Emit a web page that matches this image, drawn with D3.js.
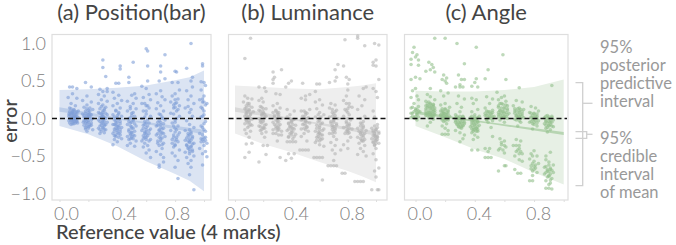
<!DOCTYPE html>
<html>
<head>
<meta charset="utf-8">
<script src="https://d3js.org/d3.v7.min.js"></script>
<style>
  html, body { margin: 0; padding: 0; background: #fff; }
  text { font-family: Lato, "Noto Sans", sans-serif; }
</style>
</head>
<body>
<script>
// Data
const titles = ["(a) Position(bar)", "(b) Luminance", "(c) Angle"];
const yTicks = [-1, -0.5, 0, 0.5, 1];
const xTicks = [0, 0.2, 0.4, 0.6, 0.8, 1];
const xTickLabels = ["0.0", "", "0.4", "", "0.8", ""];

const bandX = [0, 0.2, 0.4, 0.6, 0.8, 0.9, 1];
const posUpper = [0.38, 0.39, 0.41, 0.44, 0.51, 0.55, 0.64];
const posLower = [-0.1, -0.21, -0.37, -0.57, -0.74, -0.83, -0.97];
const lumUpper = [0.44, 0.42, 0.4, 0.39, 0.42, 0.44, 0.47];
const lumLower = [-0.2, -0.34, -0.45, -0.58, -0.7, -0.77, -0.85];
const angUpper = [0.37, 0.36, 0.36, 0.38, 0.42, 0.47, 0.52];
const angLower = [-0.1, -0.25, -0.41, -0.54, -0.72, -0.8, -0.88];

const lineX = [0, 0.5, 1];
const posMean = [0.12, -0.03, -0.18];
const posMeanHi = [0.15, -0.02, -0.15];
const posMeanLo = [0.09, -0.04, -0.21];
const lumMean = [0.12, -0.04, -0.2];
const lumMeanHi = [0.15, -0.03, -0.17];
const lumMeanLo = [0.09, -0.05, -0.23];
const angMean = [0.08, -0.06, -0.2];
const angMeanHi = [0.1, -0.05, -0.18];
const angMeanLo = [0.06, -0.07, -0.22];

const positionPoints = [
[.07,.42],[.09,.42],[.12,.4],[.09,.33],[.06,.28],[.12,.27],[.08,.2],[.11,.17],[.07,.14],[.1,.12],[.13,.1],[.07,.09],[.09,.07],[.12,.06],[.08,.05],[.1,.04],[.065,.03],[.11,.02],[.09,.01],[.13,.01],[.07,0],[.1,-.01],[.12,-.02],[.08,-.02],[.065,-.03],[.1,-.04],[.115,-.04],[.09,-.05],[.07,-.06],[.125,-.06],[.1,-.07],[.08,-.08],[.065,.06],[.11,.08],[.09,.1],
[.18,.48],[.22,.42],[.19,.3],[.16,.24],[.22,.22],[.19,.18],[.17,.15],[.21,.14],[.23,.12],[.18,.1],[.2,.08],[.16,.06],[.22,.05],[.19,.04],[.17,.02],[.21,.01],[.23,0],[.18,-.02],[.2,-.03],[.165,-.05],[.22,-.06],[.19,-.07],[.17,-.09],[.21,-.1],[.18,-.12],[.2,-.13],[.23,-.15],[.19,-.17],[.17,-.03],[.21,.03],[.2,.11],
[.3,.78],[.3,.68],[.32,.56],[.33,.4],[.28,.39],[.3,.36],[.27,.32],[.31,.3],[.29,.25],[.33,.23],[.27,.2],[.3,.18],[.32,.15],[.28,.13],[.31,.11],[.27,.08],[.29,.06],[.33,.05],[.3,.03],[.28,.01],[.32,0],[.27,-.02],[.3,-.03],[.33,-.05],[.29,-.06],[.31,-.08],[.28,-.1],[.3,-.12],[.27,-.13],[.32,-.15],[.29,-.17],[.31,-.19],[.28,-.2],[.33,.36],[.3,.08],
[.42,.7],[.42,.66],[.39,.47],[.41,.47],[.37,.35],[.41,.31],[.38,.27],[.43,.24],[.4,.2],[.37,.17],[.42,.14],[.39,.11],[.41,.08],[.37,.05],[.43,.03],[.4,.01],[.38,-.02],[.42,-.04],[.39,-.06],[.37,-.08],[.41,-.1],[.43,-.12],[.38,-.14],[.4,-.16],[.42,-.18],[.37,-.2],[.39,-.22],[.41,-.25],[.38,-.28],[.4,-.31],[.37,-.35],[.43,-.27],[.4,-.14],[.39,-.09],
[.51,.75],[.48,.55],[.48,.48],[.52,.33],[.5,.31],[.53,.27],[.47,.23],[.51,.2],[.49,.16],[.53,.13],[.47,.1],[.5,.07],[.52,.03],[.48,0],[.51,-.03],[.49,-.06],[.47,-.08],[.53,-.1],[.5,-.13],[.48,-.15],[.52,-.17],[.49,-.2],[.51,-.22],[.47,-.24],[.5,-.26],[.48,-.28],[.53,-.3],[.49,-.33],[.52,-.37],[.47,-.36],[.5,-.18],
[.6,.93],[.61,.9],[.61,.7],[.61,.5],[.57,.43],[.6,.4],[.62,.32],[.58,.28],[.63,.25],[.57,.2],[.6,.17],[.62,.14],[.58,.1],[.6,.06],[.63,.03],[.57,0],[.59,-.04],[.62,-.06],[.58,-.09],[.6,-.12],[.63,-.14],[.57,-.16],[.6,-.18],[.62,-.2],[.58,-.23],[.6,-.25],[.63,-.28],[.57,-.3],[.59,-.33],[.61,-.36],[.58,-.38],[.62,-.42],[.6,-.46],[.63,-.52],[.59,-.2],
[.73,.85],[.7,.7],[.7,.62],[.73,.53],[.69,.5],[.7,.37],[.67,.33],[.71,.29],[.73,.25],[.68,.21],[.7,.17],[.67,.13],[.72,.1],[.69,.06],[.71,.02],[.73,-.02],[.68,-.05],[.7,-.08],[.67,-.1],[.72,-.13],[.69,-.16],[.71,-.19],[.67,-.22],[.73,-.24],[.7,-.27],[.68,-.3],[.72,-.33],[.69,-.36],[.71,-.4],[.67,-.44],[.7,-.48],[.72,-.52],[.72,-.58],[.69,-.62],[.69,-.65],
[.8,.63],[.81,.62],[.78,.48],[.82,.48],[.83,.38],[.8,.33],[.78,.3],[.82,.26],[.77,.22],[.8,.2],[.83,.17],[.79,.14],[.81,.1],[.77,.07],[.83,.03],[.8,-.02],[.78,-.06],[.82,-.1],[.8,-.13],[.77,-.16],[.83,-.19],[.79,-.22],[.81,-.25],[.78,-.28],[.82,-.31],[.8,-.35],[.79,-.38],[.83,-.42],[.78,-.46],[.8,-.5],[.82,-.56],[.8,-.65],[.82,-.8],
[.91,1],[.88,.67],[.92,.55],[.91,.5],[.92,.42],[.88,.37],[.91,.3],[.89,.25],[.93,.2],[.87,.14],[.9,.08],[.92,.03],[.88,-.03],[.9,-.08],[.93,-.12],[.87,-.16],[.91,-.2],[.89,-.23],[.92,-.26],[.87,-.29],[.9,-.31],[.93,-.33],[.88,-.35],[.91,-.37],[.89,-.4],[.92,-.42],[.87,-.45],[.9,-.47],[.93,-.5],[.88,-.52],[.91,-.56],[.89,-.6],[.91,-.65],[.9,-.75],[.93,-.95],
[.99,.73],[.99,.7],[.98,.49],[1,.48],[1.01,.44],[.98,.38],[1,.3],[.97,.25],[.99,.22],[1.02,.2],[.98,.15],[1,.1],[.99,.03],[1.01,-.04],[.98,-.1],[1,-.15],[.97,-.2],[1.01,-.25],[.99,-.28],[.98,-.31],[1.02,-.33],[1,-.36],[.97,-.4],[1.01,-.44],[.99,-.47],[1.02,-.51],[.99,-.62]
];
const positionCore = [
[.08,.13],[.1,.11],[.12,.09],[.09,.08],[.07,.05],[.11,.04],[.09,.03],[.08,.01],[.12,.03],[.1,.01],[.11,0],[.09,-.01],[.08,-.03],[.1,-.03],[.12,-.04],[.09,-.07],[.11,-.06],[.1,.06],[.08,.07],[.1,.02],
[.19,.13],[.21,.1],[.18,.07],[.2,.05],[.17,.04],[.21,.06],[.19,.02],[.2,.01],[.18,0],[.22,-.02],[.19,-.04],[.2,-.05],[.18,-.06],[.21,-.08],[.19,-.1],[.2,-.11],[.22,-.09],[.18,-.14],
[.29,.16],[.31,.13],[.3,.1],[.28,.07],[.32,.07],[.3,.05],[.29,.02],[.31,.01],[.3,-.01],[.28,-.04],[.31,-.04],[.3,-.06],[.32,-.08],[.29,-.09],[.31,-.1],[.3,-.13],[.28,-.15],[.31,-.15],
[.39,.1],[.41,.06],[.4,.04],[.38,.02],[.41,-.01],[.39,-.03],[.4,-.05],[.42,-.07],[.38,-.08],[.4,-.1],[.41,-.12],[.39,-.13],[.42,-.15],[.38,-.17],[.4,-.19],[.41,-.2],[.39,-.24],[.38,-.23],[.42,-.22],
[.49,.13],[.51,.08],[.5,.04],[.49,.01],[.51,-.01],[.48,-.04],[.5,-.05],[.52,-.07],[.49,-.1],[.5,-.11],[.51,-.13],[.48,-.17],[.5,-.19],[.49,-.22],[.52,-.23],[.5,-.24],[.49,-.27],[.51,-.27],
[.59,.2],[.61,.17],[.6,.1],[.59,.02],[.61,-.02],[.6,-.06],[.59,-.08],[.61,-.1],[.58,-.13],[.6,-.15],[.62,-.16],[.59,-.18],[.6,-.21],[.61,-.23],[.59,-.25],[.58,-.27],[.6,-.28],[.62,-.3],
[.7,.05],[.71,0],[.69,-.03],[.7,-.05],[.72,-.07],[.68,-.09],[.7,-.12],[.71,-.14],[.69,-.15],[.7,-.18],[.68,-.2],[.72,-.2],[.7,-.22],[.69,-.25],[.71,-.26],[.7,-.3],[.68,-.33],[.71,-.35],
[.8,.25],[.81,.21],[.79,.18],[.8,.15],[.82,.12],[.79,.06],[.81,0],[.8,-.05],[.79,-.1],[.81,-.15],[.8,-.18],[.82,-.22],[.79,-.25],[.81,-.28],[.8,-.3],[.78,-.33],[.8,-.36],
[.9,-.15],[.91,-.18],[.89,-.2],[.9,-.22],[.92,-.24],[.88,-.26],[.9,-.27],[.91,-.29],[.89,-.3],[.9,-.32],[.92,-.34],[.88,-.36],[.91,-.38],[.89,-.38],[.9,-.41],[.92,-.44],[.9,-.44],[.89,.16],[.91,.12],
[.99,.26],[1,.22],[1.01,.18],[.99,.13],[1,.05],[.98,.02],[1,-.07],[.99,-.12],[1.01,-.17],[.99,-.22],[1,-.26],[.98,-.27],[1.01,-.29],[1,-.31]
];

const luminancePoints = [
[.07,.8],[.11,1.07],[.07,.3],[.09,.27],[.12,.26],[.06,.22],[.1,.2],[.08,.17],[.12,.15],[.07,.13],[.1,.11],[.13,.09],[.08,.07],[.11,.05],[.07,.03],[.09,.01],[.12,-.01],[.08,-.03],[.1,-.05],[.07,-.07],[.12,-.09],[.09,-.12],[.07,-.15],[.11,-.17],[.08,-.2],[.1,-.25],[.12,-.33],[.08,-.34],[.1,-.45],[.07,-.52],
[.17,.42],[.21,.41],[.22,.36],[.19,.27],[.17,.24],[.2,.22],[.18,.16],[.22,.13],[.17,.11],[.2,.09],[.19,.06],[.22,.03],[.17,0],[.2,-.02],[.18,-.05],[.22,-.08],[.17,-.1],[.2,-.13],[.18,-.16],[.22,-.18],[.19,-.2],[.21,-.25],[.2,-.36],[.23,-.36],[.22,-.48],[.17,-.58],[.18,-.03],[.21,.06],
[.27,.62],[.28,.55],[.27,.52],[.27,.47],[.33,.65],[.29,.33],[.32,.32],[.3,.2],[.27,.17],[.32,.14],[.29,.11],[.27,.08],[.31,.05],[.28,.02],[.33,0],[.3,-.03],[.27,-.05],[.32,-.08],[.29,-.1],[.31,-.13],[.27,-.15],[.33,-.17],[.29,-.2],[.31,-.22],[.27,-.2],[.33,-.22],[.3,-.3],[.32,-.52],[.3,.08],
[.36,.42],[.38,.47],[.4,.5],[.37,.12],[.42,.1],[.39,.05],[.37,.02],[.42,-.01],[.4,-.04],[.38,-.07],[.43,-.09],[.39,-.11],[.41,-.13],[.37,-.16],[.4,-.19],[.43,-.21],[.38,-.24],[.41,-.27],[.37,-.31],[.39,-.31],[.41,-.31],[.43,-.31],[.38,-.47],[.42,-.47],[.4,-.53],[.36,-.56],[.4,-.02],
[.48,.47],[.5,.3],[.53,.32],[.47,.27],[.5,.25],[.53,.12],[.47,.1],[.5,.08],[.48,.03],[.52,.01],[.47,-.02],[.5,-.04],[.53,-.06],[.48,-.08],[.51,-.12],[.47,-.14],[.52,-.17],[.49,-.2],[.47,-.24],[.51,-.3],[.48,-.42],[.5,-.42],[.52,-.42],[.46,-.42],
[.58,.46],[.6,.46],[.57,.36],[.6,.25],[.57,.22],[.62,.18],[.58,.13],[.6,.08],[.63,.05],[.57,.02],[.6,-.03],[.62,-.06],[.58,-.09],[.6,-.12],[.63,-.14],[.57,-.17],[.6,-.19],[.62,-.22],[.58,-.25],[.61,-.28],[.57,-.32],[.6,-.35],[.63,-.37],[.58,-.52],[.6,-.52],[.62,-.52],[.56,-.52],[.62,-.82],[.59,-.21],
[.73,.72],[.72,.55],[.71,.5],[.71,.65],[.67,.48],[.68,.2],[.71,.18],[.67,.14],[.72,.11],[.69,.08],[.71,.04],[.67,.02],[.73,0],[.7,-.03],[.68,-.06],[.72,-.09],[.69,-.12],[.71,-.15],[.67,-.2],[.7,-.24],[.72,-.28],[.68,-.32],[.71,-.36],[.69,-.42],[.71,-.47],[.66,-.63],[.68,-.63],[.7,-.63],[.72,-.63],[.7,-.56],
[.78,1.05],[.77,.7],[.79,.55],[.81,.52],[.8,.46],[.8,.38],[.79,.3],[.77,.24],[.81,.2],[.83,.15],[.78,.12],[.8,.08],[.77,.03],[.82,-.02],[.79,-.06],[.81,-.09],[.77,-.12],[.83,-.14],[.8,-.17],[.78,-.2],[.82,-.25],[.8,-.3],[.77,-.35],[.75,-.42],[.78,-.73],[.76,-.73],[.8,-.4],
[.87,1.1],[.87,1.07],[.92,.97],[.93,.42],[.91,.4],[.88,.3],[.92,.25],[.9,.17],[.87,.12],[.92,.03],[.89,-.06],[.91,-.1],[.87,-.13],[.93,-.16],[.89,-.19],[.91,-.22],[.87,-.25],[.92,-.28],[.9,-.3],[.88,-.33],[.92,-.36],[.89,-.4],[.91,-.44],[.87,-.48],[.85,-.84],[.87,-.84],[.89,-.84],[.91,-.84],[.93,-.5],
[.99,1],[1.02,.98],[.98,.75],[1,.78],[.98,.71],[1,.7],[1.02,.52],[.98,.4],[1,.36],[1.01,.28],[.98,.1],[.99,.02],[1.01,-.08],[.97,-.13],[1,-.15],[.98,-.18],[1.02,-.2],[.99,-.23],[1.01,-.25],[.97,-.27],[1,-.29],[.98,-.31],[1.02,-.33],[.99,-.36],[1,-.4],[.98,-.47],[1,-.55],[1.02,-.66],[.99,-.7],[1,-.78],[.97,-.95],[1.01,-.95],[1.02,-.95]
];
const luminanceCore = [
[.09,.2],[.1,.17],[.08,.14],[.1,.12],[.09,.09],[.11,.07],[.08,.05],[.1,.03],[.09,.02],[.11,0],[.08,-.02],[.1,-.03],[.09,-.06],[.11,-.08],[.1,-.1],[.08,.1],
[.19,.15],[.2,.13],[.18,.1],[.2,.07],[.19,.04],[.21,.02],[.18,-.01],[.2,-.04],[.19,-.06],[.21,-.09],[.18,-.11],[.2,-.12],[.19,-.15],[.21,-.13],
[.29,.1],[.31,.08],[.3,.06],[.28,.04],[.31,.02],[.3,0],[.29,-.02],[.31,-.04],[.3,-.06],[.28,-.08],[.31,-.1],[.3,-.12],[.29,-.13],[.31,-.15],[.3,-.16],
[.39,0],[.41,-.02],[.4,-.05],[.38,-.06],[.41,-.08],[.39,-.1],[.4,-.12],[.42,-.14],[.38,-.14],[.4,-.16],[.41,-.18],[.39,-.2],[.4,-.22],[.42,-.24],[.38,-.25],
[.49,.1],[.51,.07],[.5,.05],[.49,.02],[.51,0],[.48,-.01],[.5,-.03],[.51,-.05],[.49,-.07],[.5,-.09],[.51,-.11],[.49,-.13],[.5,-.15],
[.59,.05],[.61,.02],[.6,0],[.59,-.04],[.61,-.07],[.6,-.1],[.58,-.13],[.6,-.15],[.62,-.16],[.59,-.18],[.6,-.2],[.61,-.22],[.59,-.24],[.6,-.26],[.62,-.27],[.58,-.29],[.6,-.3],
[.69,.12],[.71,.09],[.7,.06],[.69,.03],[.71,.01],[.7,-.01],[.68,-.04],[.7,-.05],[.72,-.07],[.69,-.09],[.7,-.11],[.71,-.13],[.69,-.15],[.7,-.17],[.71,-.19],[.69,-.2],
[.79,.2],[.81,.16],[.8,.13],[.79,.1],[.81,.05],[.8,0],[.79,-.04],[.81,-.07],[.8,-.09],[.79,-.11],[.81,-.13],[.8,-.15],[.79,-.17],[.81,-.19],[.8,-.2],
[.89,0],[.91,-.04],[.9,-.07],[.89,-.1],[.91,-.12],[.9,-.14],[.88,-.17],[.9,-.18],[.92,-.2],[.89,-.21],[.9,-.23],[.91,-.25],[.89,-.27],[.9,-.29],[.91,-.3],
[.99,-.1],[1.01,-.12],[1,-.14],[.98,-.16],[1,-.17],[1.02,-.18],[.99,-.2],[1,-.22],[.98,-.23],[1.01,-.24],[1,-.25],[.99,-.27],[1.01,-.28],[1,-.3],[.98,-.32],[1,-.33],[.99,-.35]
];

const anglePoints = [
[-.01,.95],[-.02,.88],[.01,.85],[-.03,.79],[0,.82],[-.03,.72],[.02,.78],[.02,.71],[0,.55],[-.03,.52],[.03,.53],[-.02,.37],[0,.4],[.01,.3],[-.03,.28],[.02,.25],[-.01,.2],[.02,.16],[-.03,.14],[0,.11],[.03,.09],[-.02,.07],[.01,.05],[-.03,.01],[-.01,.01],[0,0],[.02,.1],[.01,-.02],
[.13,1.07],[.11,.72],[.09,.75],[.12,.68],[.07,.63],[.1,.65],[.13,.62],[.1,.4],[.08,.32],[.1,.29],[.13,.25],[.07,.23],[.1,.2],[.12,.18],[.08,.17],[.1,.15],[.13,.14],[.07,.13],[.11,.12],[.09,.1],[.12,.09],[.07,.07],[.1,.06],[.13,.05],[.08,.04],[.11,.02],[.09,.01],[.12,-.01],[.1,-.05],[.08,-.1],[.12,.16],[.09,.22],
[.2,1.07],[.19,.58],[.21,.54],[.2,.5],[.18,.52],[.21,.47],[.17,.37],[.22,.34],[.19,.3],[.2,.2],[.17,.18],[.23,.15],[.2,.13],[.18,.1],[.22,.09],[.19,.07],[.21,.05],[.17,.04],[.23,.03],[.2,.02],[.18,0],[.22,-.02],[.19,-.04],[.21,-.07],[.18,-.1],[.2,-.13],[.22,-.16],[.18,-.21],[.2,-.21],[.22,-.21],
[.29,.58],[.31,.52],[.33,.52],[.3,.45],[.27,.42],[.3,.42],[.32,.42],[.33,.73],[.28,1],[.29,.3],[.33,.26],[.28,.2],[.31,.15],[.3,.09],[.27,.05],[.32,.03],[.29,.01],[.31,-.01],[.27,-.03],[.33,-.05],[.3,-.06],[.28,-.08],[.32,-.09],[.29,-.11],[.31,-.13],[.27,-.16],[.3,-.19],[.33,-.22],[.32,-.27],[.3,-.31],
[.41,.95],[.41,.53],[.4,.48],[.38,.43],[.42,.42],[.38,.27],[.41,.25],[.39,.2],[.42,.12],[.38,.09],[.4,.05],[.43,.03],[.37,.01],[.41,0],[.39,-.02],[.42,-.04],[.38,-.06],[.4,-.08],[.43,-.09],[.37,-.11],[.41,-.13],[.39,-.15],[.42,-.17],[.38,-.19],[.4,-.22],[.42,-.25],[.39,-.28],[.42,-.42],[.38,-.42],
[.49,.65],[.47,.53],[.48,.29],[.52,.26],[.5,.2],[.47,.14],[.52,.11],[.49,.09],[.51,.07],[.47,.04],[.53,.03],[.5,.01],[.48,-.01],[.52,-.03],[.49,-.05],[.51,-.12],[.47,-.4],[.49,-.44],[.47,-.52],[.49,-.52],[.51,-.52],[.5,-.4],[.52,-.24],
[.59,.85],[.61,.52],[.55,.35],[.58,.28],[.6,.3],[.56,.25],[.61,.23],[.58,.2],[.56,.17],[.6,.15],[.62,.13],[.57,.11],[.59,.09],[.63,.07],[.56,.05],[.6,.03],[.58,.01],[.62,0],[.57,-.02],[.6,-.05],[.57,-.27],[.6,-.3],[.58,-.35],[.61,-.38],[.56,-.42],[.6,-.46],[.61,-.63],[.6,-.63],[.56,-.7],[.62,.17],
[.7,.41],[.68,.24],[.72,.22],[.66,.17],[.7,.14],[.73,.12],[.67,.1],[.7,.08],[.72,.06],[.68,.04],[.7,.02],[.73,.01],[.67,-.01],[.71,-.05],[.69,-.1],[.68,-.28],[.71,-.3],[.66,-.36],[.7,-.4],[.68,-.44],[.72,-.47],[.67,-.5],[.7,-.55],[.72,-.57],[.67,-.68],[.69,-.73],[.71,-.73],
[.78,.16],[.81,.14],[.83,.1],[.77,.08],[.8,.06],[.82,.03],[.78,.01],[.8,-.01],[.83,-.03],[.77,-.05],[.8,-.08],[.82,-.1],[.79,-.14],[.8,-.43],[.78,-.47],[.82,-.5],[.77,-.54],[.8,-.57],[.83,-.6],[.78,-.63],[.81,-.66],[.79,-.7],[.82,-.72],[.79,-.76],[.77,-.83],[.79,-.83],
[.92,.44],[.89,.04],[.92,.03],[.87,.01],[.9,0],[.93,-.02],[.88,-.04],[.91,-.05],[.87,-.07],[.9,-.09],[.93,-.11],[.88,-.13],[.91,-.15],[.89,-.18],[.88,-.5],[.91,-.45],[.88,-.55],[.9,-.58],[.93,-.62],[.87,-.65],[.91,-.68],[.89,-.7],[.93,-.72],[.87,-.74],[.9,-.77],[.92,-.8],[.88,-.83],[.91,-.86],[.88,-.93],[.9,-.93],[.92,-.94]
];
const angleCore = [
[-.02,.15],[0,.13],[.01,.12],[-.01,.09],[-.03,.07],[.01,.07],[-.02,.03],[0,.03],[.02,.02],
[.08,.2],[.1,.19],[.12,.19],[.07,.17],[.09,.16],[.11,.16],[.13,.11],[.08,.14],[.1,.13],[.12,.12],[.07,.1],[.09,.08],[.11,.08],[.13,.08],[.08,.07],[.1,.08],[.12,.05],[.07,.04],[.09,.05],[.11,.04],[.1,.03],[.12,.02],
[.18,.13],[.2,.12],[.22,.11],[.17,.1],[.19,.09],[.21,.08],[.18,.07],[.2,.06],[.22,.06],[.17,.05],[.19,.04],[.21,.03],[.18,.03],[.2,.01],[.22,.01],[.19,0],[.21,-.01],[.18,-.02],[.2,-.03],[.19,.06],
[.28,.03],[.3,.03],[.32,.02],[.27,.01],[.29,0],[.31,0],[.33,-.01],[.28,-.02],[.3,-.03],[.32,-.04],[.27,-.05],[.29,-.05],[.31,-.06],[.33,-.07],[.28,-.07],[.3,-.08],[.32,-.1],[.29,-.1],[.31,-.11],[.3,-.12],
[.38,.03],[.4,.02],[.42,.01],[.39,0],[.41,-.01],[.38,-.03],[.4,-.04],[.42,-.05],[.39,-.06],[.41,-.07],[.38,-.09],[.4,-.1],[.42,-.11],[.39,-.12],[.41,-.13],[.38,-.14],[.4,-.15],[.42,-.15],[.39,-.17],[.41,-.17],
[.48,.1],[.5,.09],[.52,.08],[.47,.07],[.49,.06],[.51,.05],[.48,.04],[.5,.03],[.52,.02],[.49,.01],[.51,0],[.48,-.02],
[.57,.2],[.59,.19],[.61,.18],[.56,.15],[.58,.14],[.6,.13],[.62,.11],[.57,.1],[.59,.1],[.61,.08],[.56,.08],[.58,.07],[.6,.07],[.62,.05],[.57,.05],[.59,.04],[.61,.03],[.56,.02],[.58,.02],[.6,.01],[.58,-.32],[.6,-.36],[.57,-.4],[.59,-.42],
[.67,.13],[.69,.13],[.71,.12],[.68,.1],[.7,.1],[.72,.09],[.67,.07],[.69,.06],[.71,.05],[.68,.03],[.7,.03],[.72,.03],[.69,.01],[.71,0],[.68,-.02],[.7,-.03],[.68,-.36],[.7,-.36],[.69,-.42],[.71,-.44],[.7,-.47],
[.78,.07],[.8,.07],[.82,.06],[.79,.04],[.81,.03],[.78,.02],[.8,.01],[.82,0],[.79,-.02],[.81,-.03],[.78,-.04],[.8,-.05],[.82,-.06],[.79,-.07],[.79,-.6],[.81,-.62],[.8,-.64],[.78,-.67],[.8,-.68],[.79,-.5],
[.88,.03],[.9,.02],[.92,.01],[.89,0],[.91,-.02],[.88,-.03],[.9,-.04],[.92,-.05],[.89,-.06],[.91,-.08],[.88,-.09],[.9,-.1],[.92,-.1],[.89,-.12],[.9,-.62],[.88,-.64],[.91,-.66],[.89,-.68],[.92,-.69],[.9,-.71],[.88,-.72],[.91,-.74],[.9,-.76],[.89,-.78],[.91,-.82],[.9,-.88]
];

// Panel layout, one entry per chart
const panels = [
  { left: 52, right: 211, x0: 59.5, x1: 204, points: positionPoints.concat(positionCore), upper: posUpper, lower: posLower, mean: posMean, meanHi: posMeanHi, meanLo: posMeanLo,
    dot: "#7e9fd7", band: "#dbe4f3", line: "#bccde8", labelShift: [6.5, 0, 6.5, 0, 2, 0] },
  { left: 228.5, right: 387, x0: 235, x1: 376, points: luminancePoints.concat(luminanceCore), upper: lumUpper, lower: lumLower, mean: lumMean, meanHi: lumMeanHi, meanLo: lumMeanLo,
    dot: "#b4b4b4", band: "#eeeeee", line: "#d9d9d9", labelShift: [2, 0, 4.5, 0, 4, 0] },
  { left: 404.5, right: 568, x0: 415.5, x1: 563.7, points: anglePoints.concat(angleCore), upper: angUpper, lower: angLower, mean: angMean, meanHi: angMeanHi, meanLo: angMeanLo,
    dot: "#92bf8c", band: "#e7f0e5", line: "#b7d5b2", labelShift: [4, 0, 4, 0, 4, 0] }
];

const w = 676;
const h = 245;
const frameTop = 34.5;
const frameBottom = 200;

const svg = d3.select("body")
    .append("svg")
    .attr("width", w)
    .attr("height", h)
    .style("display", "block");

const yScale = d3.scaleLinear()
    .domain([-1, 1])
    .range([193.5, 43.5]);

panels.forEach((p, idx) => {
    const xScale = d3.scaleLinear().domain([0, 1]).range([p.x0, p.x1]);
    const g = svg.append("g");

    //Posterior predictive band
    const area = d3.area()
        .x((d) => xScale(d.x))
        .y0((d) => yScale(d.lo))
        .y1((d) => yScale(d.hi));
    g.append("path")
        .attr("d", area(bandX.map((x, i) => ({ x: x, lo: p.lower[i], hi: p.upper[i] }))))
        .attr("fill", p.band);

    //Credible interval of mean
    g.append("path")
        .attr("d", area(lineX.map((x, i) => ({ x: x, lo: p.meanLo[i], hi: p.meanHi[i] }))))
        .attr("fill", p.line);

    //Frame
    g.append("rect")
        .attr("x", p.left)
        .attr("y", frameTop)
        .attr("width", p.right - p.left)
        .attr("height", frameBottom - frameTop)
        .attr("fill", "none")
        .attr("stroke", "#dedede")
        .attr("stroke-width", 1.2);

    //Dots
    g.selectAll("circle")
        .data(p.points)
        .join("circle")
        .attr("cx", (d) => xScale(d[0]))
        .attr("cy", (d) => yScale(d[1]))
        .attr("r", 1.8)
        .attr("fill", p.dot)
        .attr("fill-opacity", 0.6);

    //Zero line
    g.append("line")
        .attr("x1", p.left)
        .attr("x2", p.right - 1)
        .attr("y1", yScale(0))
        .attr("y2", yScale(0))
        .attr("stroke", "#111")
        .attr("stroke-width", 1.4)
        .attr("stroke-dasharray", "5,3");

    //X axis
    const xAxis = g.append("g")
        .attr("transform", "translate(0," + frameBottom + ")")
        .call(d3.axisBottom(xScale)
            .tickValues(xTicks)
            .tickSize(2)
            .tickPadding(5)
            .tickFormat((d, i) => xTickLabels[i]));
    xAxis.select(".domain").remove();
    xAxis.selectAll("line").attr("stroke", "#dedede");
    xAxis.selectAll("text")
        .attr("dx", (d, i) => p.labelShift[i])
        .attr("fill", "#808080")
        .style("font-size", "18px")
        .style("font-weight", 300);

    //Y axis only on the first chart
    if (idx === 0) {
        const yAxis = g.append("g")
            .attr("transform", "translate(" + p.left + ",0)")
            .call(d3.axisLeft(yScale)
                .tickValues(yTicks)
                .tickSize(0)
                .tickPadding(6)
                .tickFormat(d3.format(".1f")));
        yAxis.select(".domain").remove();
        yAxis.selectAll("text")
            .attr("fill", "#808080")
            .style("font-size", "18px")
            .style("font-weight", 300);
    }

    //Title
    g.append("text")
        .attr("x", (p.left + p.right) / 2)
        .attr("y", 20)
        .attr("text-anchor", "middle")
        .attr("fill", "#444")
        .style("font-size", "22px")
        .text(titles[idx]);
});

//Axis titles
svg.append("text")
    .attr("transform", "translate(17,121) rotate(-90)")
    .attr("text-anchor", "middle")
    .attr("fill", "#444")
    .style("font-size", "20px")
    .style("font-weight", 500)
    .text("error");

svg.append("text")
    .attr("x", 56)
    .attr("y", 239)
    .attr("fill", "#444")
    .style("font-size", "20px")
    .style("font-weight", 500)
    .text("Reference value (4 marks)");

//Annotation on the right
const noteTop = ["95%", "posterior", "predictive", "interval"];
const noteBottom = ["95%", "credible", "interval", "of mean"];
const note = svg.append("g")
    .attr("fill", "#999")
    .style("font-size", "16.5px");
noteTop.forEach((t, i) => {
    note.append("text").attr("x", 600).attr("y", 53 + i * 18).text(t);
});
noteBottom.forEach((t, i) => {
    note.append("text").attr("x", 600).attr("y", 144 + i * 18).text(t);
});

const brackets = [
    "M575.5,82.7H582.7V185.7H575.5",
    "M582.7,103.3H592.5",
    "M575.5,131.7H586.7V138.3H575.5",
    "M586.7,134.3H592.5"
];
svg.selectAll(".bracket")
    .data(brackets)
    .join("path")
    .attr("class", "bracket")
    .attr("d", (d) => d)
    .attr("fill", "none")
    .attr("stroke", "#cfcfcf")
    .attr("stroke-width", 1.3);
</script>
</body>
</html>
